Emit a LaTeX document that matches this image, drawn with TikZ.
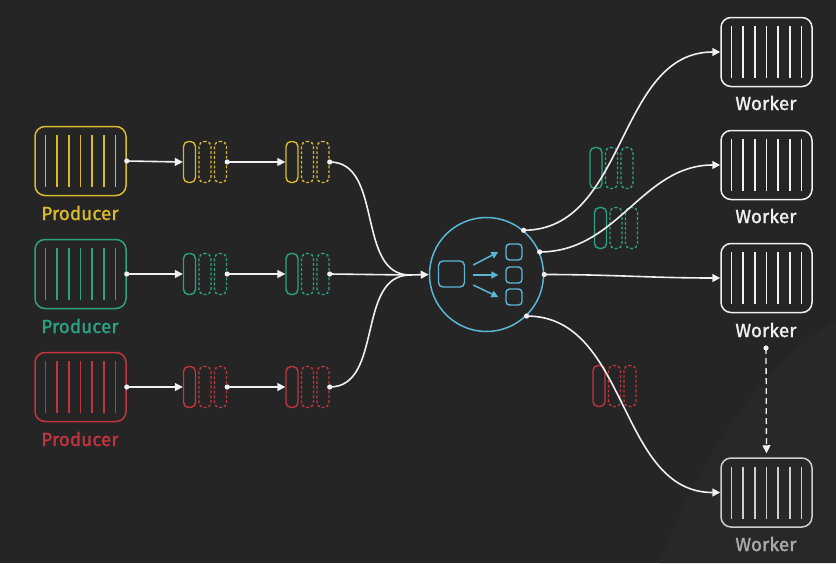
\documentclass[tikz,border=0pt]{standalone}
\usepackage{fontspec}
\setmainfont{Fira Sans}
\newfontfamily\lblfont{Fira Sans}[FakeBold=1.2]
\usetikzlibrary{arrows.meta,calc}
\definecolor{bg}{HTML}{252525}
\definecolor{bglight}{HTML}{282828}
\definecolor{cy}{HTML}{D9BA2E}
\definecolor{cg}{HTML}{2BA383}
\definecolor{cr}{HTML}{C2343F}
\definecolor{cb}{HTML}{5BB6D6}
\definecolor{wl}{HTML}{F0F0F0}
\definecolor{wdim}{HTML}{CFCFCF}
\definecolor{wgray}{HTML}{ABABAB}
\tikzset{
  machine/.style={draw=#1, line width=1.5pt, rounded corners=10pt,
    minimum width=91pt, minimum height=69pt, inner sep=0pt,
    path picture={\foreach \i in {-3,...,3}
      \draw[#1, line width=1.5pt] ($(path picture bounding box.center)+(\i*11.67,-26)$) -- ++(0,52);}},
  lbl/.style={text=#1, font=\lblfont\fontsize{19}{20}\selectfont, inner sep=0pt},
  qsolid/.style={draw=#1, line width=1.4pt, rounded corners=5pt,
    minimum width=12pt, minimum height=41pt, inner sep=0pt},
  qdash/.style={qsolid=#1, dash pattern=on 2.8pt off 2pt},
  wire/.style={draw=wl, line width=1.6pt},
  arr/.style={-{Triangle[length=8pt,width=8pt]}},
  dot/.style={fill=wl},
  hubbox/.style={draw=cb, line width=1.4pt, inner sep=0pt},
}
\newcommand{\qset}[4]{%
  \node[qsolid=#4] (#1a) at (#2,#3) {};
  \node[qdash=#4] (#1b) at (#2+15.5,#3) {};
  \node[qdash=#4] (#1c) at (#2+31,#3) {};}
\begin{document}
\begin{tikzpicture}[x=1pt,y=-1pt]
\useasboundingbox (0,0) rectangle (836,563);
\fill[bg] (0,0) rectangle (836,563);
\fill[bglight] (836,320) .. controls (770,360) and (700,450) .. (660,563) -- (836,563) -- cycle;

% producers
\node[machine=cy] (p1) at (80.5,161) {};
\node[machine=cg] (p2) at (80.5,274) {};
\node[machine=cr] (p3) at (80.5,387) {};
\node[lbl=cy] (p1l) at (80,213) {Producer};
\node[lbl=cg] (p2l) at (80,326) {Producer};
\node[lbl=cr] (p3l) at (80,439) {Producer};

% queues left
\qset{ya}{189.5}{162}{cy}
\qset{yb}{292}{162}{cy}
\qset{ga}{189.5}{274}{cg}
\qset{gb}{292}{274}{cg}
\qset{ra}{189.5}{387}{cr}
\qset{rb}{292}{387}{cr}

% queues right
\qset{gc}{596}{168}{cg}
\qset{gd}{600.5}{228}{cg}
\qset{rc}{599}{386}{cr}

% hub
\node[circle, draw=cb, line width=1.5pt, minimum size=114pt, inner sep=0pt] (hub) at (486.5,274.5) {};
\node[hubbox, rounded corners=4.5pt, minimum size=26pt] (big) at (451.5,274) {};
\node[hubbox, rounded corners=3.5pt, minimum size=16pt] (s1) at (514,252) {};
\node[hubbox, rounded corners=3.5pt, minimum size=16pt] (s2) at (514,275) {};
\node[hubbox, rounded corners=3.5pt, minimum size=16pt] (s3) at (514,297) {};
\foreach \s/\dy in {s1/-9, s2/1, s3/11}
  \draw[cb, line width=1.5pt, -{Triangle[length=7pt,width=7pt]}]
    ($(big.east)+(8,\dy)$) -- ($(\s.west)+(-7,0)$);

% workers
\node[machine=wl] (w1) at (766.5,52) {};
\node[machine=wl] (w2) at (766.5,165) {};
\node[machine=wl] (w3) at (766.5,278) {};
\node[machine=wdim] (w4) at (766.5,492.5) {};
\node[lbl=wl] (w1l) at (766,103) {Worker};
\node[lbl=wl] (w2l) at (766,216) {Worker};
\node[lbl=wl] (w3l) at (766,330) {Worker};
\node[lbl=wgray] (w4l) at (766,544) {Worker};

% left wiring
\coordinate (merge) at (410,275);
\foreach \p/\qa/\qb in {p1/ya/yb, p2/ga/gb, p3/ra/rb} {
  \draw[wire,arr] (\p.east) -- (\qa a.west);
  \draw[wire,arr] (\qa c.east) -- (\qb a.west);
  \fill[dot] (\p.east) circle (2.6);
  \fill[dot] (\qa c.east) circle (2.6);
}
\draw[wire] (ybc.east) to[out=0,in=180] (merge);
\draw[wire] (rbc.east) to[out=0,in=180] (merge);
\draw[wire,arr] (gbc.east) -- (merge) -- (hub.west);
\foreach \q in {yb,gb,rb} \fill[dot] (\q c.east) circle (2.6);

% right wiring
\draw[wire,arr] (hub.50) to[out=0,in=180] (w1.west);
\draw[wire,arr] (hub.23) to[out=0,in=180] (w2.west);
\draw[wire,arr] (hub.east) to[out=0,in=180] (w3.west);
\draw[wire,arr] (hub.-46) to[out=0,in=180] (w4.west);
\foreach \a in {50,23,0,-46} \fill[dot] (hub.\a) circle (2.6);

% dashed worker link
\coordinate (dd) at (766,348);
\fill[dot] (dd) circle (2.6);
\draw[wire, line width=1.3pt, dash pattern=on 6pt off 4pt, arr, shorten >=4pt] (dd) -- (w4.north);
\end{tikzpicture}
\end{document}
